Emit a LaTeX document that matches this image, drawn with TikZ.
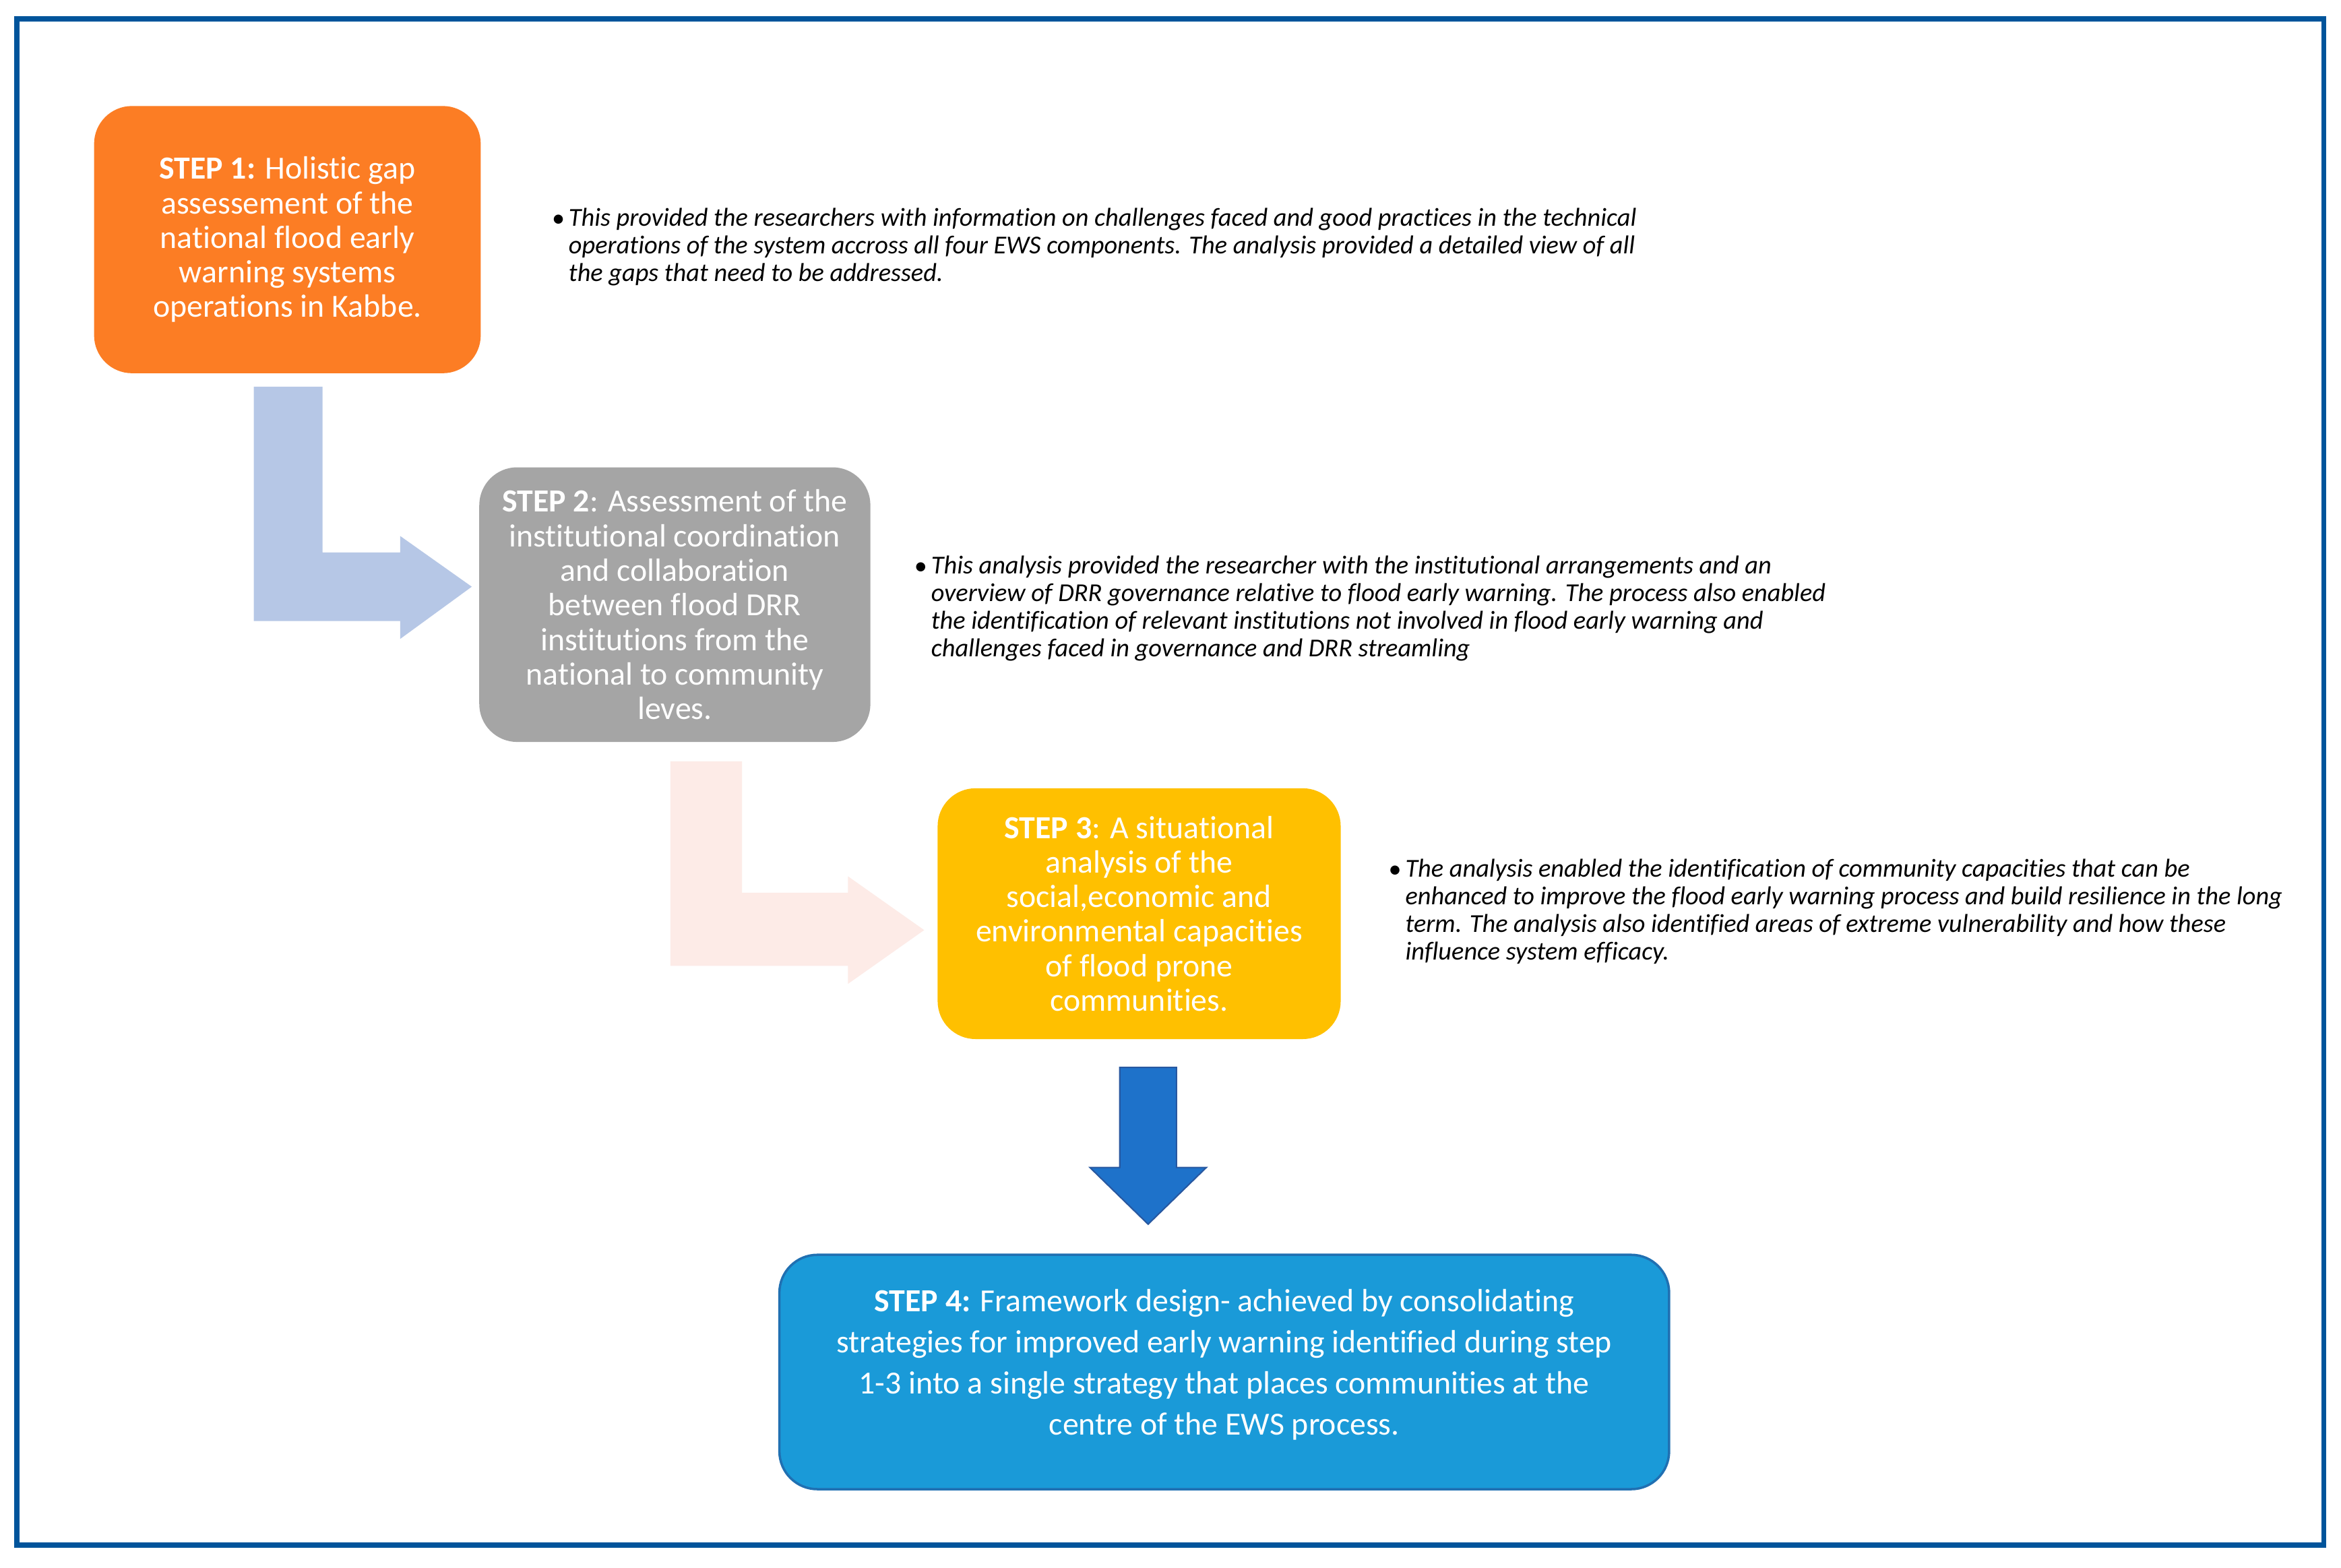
\documentclass[tikz,border=0pt]{standalone}
\usepackage{fontspec}
\setmainfont{Carlito}[Ligatures=NoCommon]
\usetikzlibrary{calc}
\definecolor{frameblue}{RGB}{0,84,155}
\definecolor{steporange}{RGB}{252,125,36}
\definecolor{stepgray}{RGB}{165,165,165}
\definecolor{stepyellow}{RGB}{255,192,0}
\definecolor{stepblue}{RGB}{26,154,216}
\definecolor{stepblueedge}{RGB}{32,112,178}
\definecolor{arrowlight}{RGB}{182,199,230}
\definecolor{arrowpink}{RGB}{253,235,231}
\definecolor{arrowdark}{RGB}{30,114,202}
\definecolor{arrowdarkedge}{RGB}{40,88,160}
\tikzset{
  stepbox/.style={rounded corners=16pt, inner sep=0pt, align=center, text=white,
    font=\fontsize{13.6}{14.6}\selectfont},
  notetext/.style={anchor=north west, inner sep=0pt, align=left,
    font=\fontsize{10.9}{11.7}\selectfont\itshape},
  bulletmark/.style={anchor=base east, inner sep=0pt, font=\fontsize{10.9}{11.7}\selectfont},
}
\begin{document}
\begin{tikzpicture}[x=0.022156cm,y=-0.022156cm]
\useasboundingbox (0,0) rectangle (1568,1050);
\fill[white] (0,0) rectangle (1568,1050);
\draw[frameblue, line width=2.2pt] (11.4,12.7) rectangle (1556.5,1035);

% block arrows
\coordinate (a1tip) at (316,393);
\fill[arrowlight] (170,259) -- (216,259) -- (216,370) -- (268,370) -- (268,359) -- (a1tip) -- (268,428) -- (268,416) -- (170,416) -- cycle;
\coordinate (a2tip) at (619,623);
\fill[arrowpink] (449,510) -- (497,510) -- (497,598) -- (568,598) -- (568,587) -- (a2tip) -- (568,659) -- (568,647) -- (449,647) -- cycle;
\coordinate (a3tip) at (769,820);
\filldraw[fill=arrowdark, draw=arrowdarkedge, line width=0.6pt] (750,715) -- (788,715) -- (788,782) -- (808,782) -- (a3tip) -- (730,782) -- (750,782) -- cycle;

% step boxes
\node[stepbox, fill=steporange, minimum width=259*0.6303pt, minimum height=179*0.6303pt] (s1) at (192.5,160.5)
  {\textbf{STEP 1:} Holistic gap\\assessement of the\\national flood early\\warning systems\\operations in Kabbe.};
\node[stepbox, fill=stepgray, minimum width=262*0.6303pt, minimum height=184*0.6303pt] (s2) at (452,405)
  {\textbf{STEP 2}: Assessment of the\\institutional coordination\\and collaboration\\between flood DRR\\institutions from the\\national to community\\leves.};
\node[stepbox, fill=stepyellow, minimum width=270*0.6303pt, minimum height=168*0.6303pt] (s3) at (763,612)
  {\textbf{STEP 3}: A situational\\analysis of the\\social,economic and\\environmental capacities\\of flood prone\\communities.};
\node[stepbox, fill=stepblue, draw=stepblueedge, line width=1pt, minimum width=596*0.6303pt, minimum height=157*0.6303pt] (s4) at (820,919) {};
\node[stepbox, font=\fontsize{13.6}{17.4}\selectfont] (s4text) at ($(s4.center)+(0,-5)$)
  {\textbf{STEP 4:} Framework design- achieved by consolidating\\strategies for improved early warning identified during step\\1-3 into a single strategy that places communities at the\\centre of the EWS process.};

% notes
\node[notetext] (t1) at (380.6,139)
  {This provided the researchers with information on challenges faced and good practices in the technical\\
   operations of the system accross all four EWS components. The analysis provided a detailed view of all\\
   the gaps that need to be addressed.};
\node[bulletmark] (b1) at ($(t1.north west)+(-2,13)$) {\textbullet};
\node[notetext] (t2) at (623.4,372)
  {This analysis provided the researcher with the institutional arrangements and an\\
   overview of DRR governance relative to flood early warning. The process also enabled\\
   the identification of relevant institutions not involved in flood early warning and\\
   challenges faced in governance and DRR streamling};
\node[bulletmark] (b2) at ($(t2.north west)+(-2,13)$) {\textbullet};
\node[notetext] (t3) at (941,575)
  {The analysis enabled the identification of community capacities that can be\\
   enhanced to improve the flood early warning process and build resilience in the long\\
   term. The analysis also identified areas of extreme vulnerability and how these\\
   influence system efficacy.};
\node[bulletmark] (b3) at ($(t3.north west)+(-2,13)$) {\textbullet};
\end{tikzpicture}
\end{document}
